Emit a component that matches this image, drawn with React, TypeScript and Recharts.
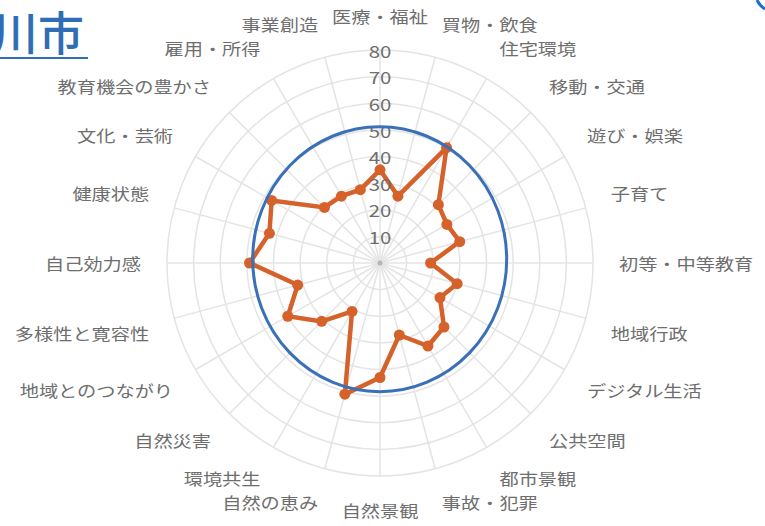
import { RadarChart, Radar, PolarGrid, PolarAngleAxis, PolarRadiusAxis } from "recharts";

const categories = [
    "医療・福祉", "買物・飲食", "住宅環境", "移動・交通", "遊び・娯楽", "子育て",
    "初等・中等教育", "地域行政", "デジタル生活", "公共空間", "都市景観", "事故・犯罪",
    "自然景観", "自然の恵み", "環境共生", "自然災害", "地域とのつながり", "多様性と寛容性",
    "自己効力感", "健康状態", "文化・芸術", "教育機会の豊かさ", "雇用・所得", "事業創造",
];
const scores = [35, 26, 50, 31, 29, 31, 19, 30, 26, 34, 36, 28, 43, 51, 21, 31, 40, 32, 49, 43, 47, 29.5, 29, 28.5];
const radiusTicks = [0, 10, 20, 30, 40, 50, 60, 70, 80];

const data = categories.map((name, i) => ({ name, value: scores[i] }));

const CX = 380;
const CY = 263;
const LINE = "#d4622a";
const BLUE = "#3a70b8";
const FONT = '"Noto Sans CJK JP", "Noto Sans", sans-serif';

const AngleTick = (props: any) => {
    const { x, y, payload } = props;
    const dx = x - CX;
    const dy = y - CY;
    const anchor = dx > 2 ? "start" : dx < -2 ? "end" : "middle";
    const shift = dy < -2 ? -8 : dy > 2 ? 8 : 0;
    return (
        <g transform={`translate(${x},${y + shift}) scale(1.2,1)`}>
            <text x={0} y={0} textAnchor={anchor} dominantBaseline="central" fill="#6e6e6e" fontSize={16} fontFamily={FONT}>
                {payload.value}
            </text>
        </g>
    );
};

const RadiusTick = (props: any) => {
    const { x, y, payload } = props;
    if (payload.value === 0) return <circle cx={x} cy={y} r={2.5} fill="#b5b5b5" />;
    return (
        <g transform={`translate(${x},${y}) scale(1.2,1)`}>
            <text x={0} y={0} textAnchor="middle" dominantBaseline="central" fill="#6e6e6e" fontSize={17} fontFamily={FONT}>
                {payload.value}
            </text>
        </g>
    );
};

const Dot = (props: any) => <circle key={props.index} cx={props.cx} cy={props.cy} r={5.5} fill={LINE} stroke="none" />;

export default function App() {
    return (
        <div style={{ position: "absolute", left: 0, top: 0, width: 765, height: 526, background: "#fff", overflow: "hidden" }}>
            <RadarChart width={765} height={526} data={data} cx={CX} cy={CY} outerRadius={213} margin={{ top: 0, right: 0, bottom: 0, left: 0 }}>
                <PolarGrid gridType="circle" stroke="#e4e4e4" strokeWidth={1.5} />
                <PolarAngleAxis dataKey="name" tick={AngleTick} tickLine={false} axisLine={false} tickSize={26} />
                <PolarRadiusAxis angle={90} domain={[0, 80]} ticks={radiusTicks as any} tickCount={9} axisLine={false} tickLine={false} tick={RadiusTick} />
                <Radar
                    dataKey="value"
                    stroke={LINE}
                    strokeWidth={4.5}
                    fill="none"
                    fillOpacity={0}
                    dot={Dot}
                    isAnimationActive={false}
                />
            </RadarChart>
            <svg width={765} height={526} style={{ position: "absolute", left: 0, top: 0, pointerEvents: "none" }}>
                <ellipse cx={379.7} cy={259.2} rx={127} ry={132.5} fill="none" stroke={BLUE} strokeWidth={3} />
                <text x={84} y={50} textAnchor="end" fill="#2f6eb5" fontSize={46} fontWeight={500} fontFamily={FONT}>
                    川市
                </text>
                <line x1={0} y1={58} x2={88} y2={58} stroke="#2f6eb5" strokeWidth={2} />
                <path d="M757,0 Q760,6 765,9" fill="none" stroke="#1f6fc8" strokeWidth={3} />
            </svg>
        </div>
    );
}
